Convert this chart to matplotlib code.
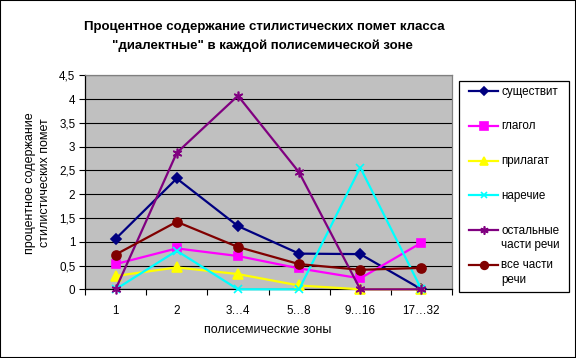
import matplotlib
matplotlib.use('Agg')
import matplotlib.pyplot as plt
from matplotlib.lines import Line2D
from matplotlib.patches import Rectangle
from matplotlib.ticker import FuncFormatter, MultipleLocator
import numpy as np

plt.rcParams['font.family'] = ['Liberation Sans', 'DejaVu Sans']

zones = ['1', '2', '3…4', '5…8', '9…16', '17…32']

noun = [1.06, 2.33, 1.33, 0.75, 0.74, 0.0]
verb = [0.53, 0.86, 0.70, 0.44, 0.23, 0.98]
adj = [0.28, 0.46, 0.32, 0.08, 0.0, 0.0]
adv = [0.0, 0.81, 0.0, 0.0, 2.56, 0.0]
other = [0.0, 2.87, 4.07, 2.46, 0.0, 0.0]
all_pos = [0.73, 1.42, 0.89, 0.53, 0.41, 0.45]

labels = ['существит', 'глагол', 'прилагат', 'наречие',
          'остальные\nчасти речи', 'все части\nречи']
colors = ['#000080', '#FF00FF', '#FFFF00', '#00FFFF', '#800080', '#800000']
markers = ['D', 's', '^', 'x', (6, 2, 0), 'o']
msizes = [5, 6, 6.5, 5.5, 7, 6.5]
series = [noun, verb, adj, adv, other, all_pos]

W, H = 576, 358
fig = plt.figure(figsize=(W / 100, H / 100), dpi=100)


def fx(px):
    return px / W


def fy(py):
    return 1 - py / H


ax = fig.add_axes([fx(85), fy(289.3), fx(452) - fx(85), fy(75.3) - fy(289.3)])
ax.set_facecolor('#C0C0C0')

x = np.arange(len(zones))
for vals, c, m, ms in zip(series, colors, markers, msizes):
    ax.plot(x, vals, color=c, lw=1.6, marker=m, ms=ms, mfc=c, mec=c,
            mew=1.2, clip_on=False, zorder=3)

ax.set_xlim(-0.5, len(zones) - 0.5)
ax.set_ylim(0, 4.5)
ax.yaxis.set_major_locator(MultipleLocator(0.5))
ax.yaxis.set_major_formatter(FuncFormatter(lambda v, p: ('%g' % v).replace('.', ',')))
ax.grid(axis='y', color='black', lw=0.8, zorder=1)
ax.set_axisbelow(True)

ax.set_xticks(x)
ax.set_xticklabels(zones)
ax.set_xticks(np.arange(len(zones) + 1) - 0.5, minor=True)
ax.tick_params(axis='x', which='major', length=0, pad=11, labelsize=8.4)
ax.tick_params(axis='x', which='minor', length=4, width=0.8, direction='out')
ax.tick_params(axis='y', length=4, width=0.8, direction='out', pad=3, labelsize=8.4)

for s in ['left', 'bottom']:
    ax.spines[s].set_color('black')
    ax.spines[s].set_linewidth(0.9)
for s in ['top', 'right']:
    ax.spines[s].set_color('#808080')
    ax.spines[s].set_linewidth(0.9)

fig.text(fx(264), fy(27), 'Процентное содержание стилистических помет класса',
         ha='center', va='center', fontsize=9.5, fontweight='bold')
fig.text(fx(262), fy(46), '"диалектные" в каждой полисемической зоне',
         ha='center', va='center', fontsize=9.5, fontweight='bold')
fig.text(fx(37.5), fy(183), 'процентное содержание\nстилистических помет',
         rotation=90, ha='center', va='center', multialignment='center',
         fontsize=9, linespacing=1.35)
fig.text(fx(268), fy(330), 'полисемические зоны', ha='center', va='center',
         fontsize=9)

# legend box
fig.add_artist(Rectangle((fx(459), fy(292)), fx(569) - fx(459), fy(81) - fy(292),
                         transform=fig.transFigure, fill=False, ec='black', lw=0.9))
for i, (lab, c, m, ms) in enumerate(zip(labels, colors, markers, msizes)):
    yy = 91 + i * 34.8
    fig.add_artist(Line2D([fx(469), fx(498)], [fy(yy), fy(yy)], transform=fig.transFigure,
                          color=c, lw=1.6))
    fig.add_artist(Line2D([fx(483.5)], [fy(yy)], transform=fig.transFigure,
                          color=c, marker=m, ms=ms * 0.85, mfc=c, mec=c, mew=1.2))
    fig.text(fx(501), fy(yy - 5.5), lab, ha='left', va='top', fontsize=8.4, linespacing=1.3)

fig.add_artist(Rectangle((0, 0), 1, 1, transform=fig.transFigure, fill=False,
                         ec='black', lw=1.5))

fig.savefig('out.png', dpi=100)
